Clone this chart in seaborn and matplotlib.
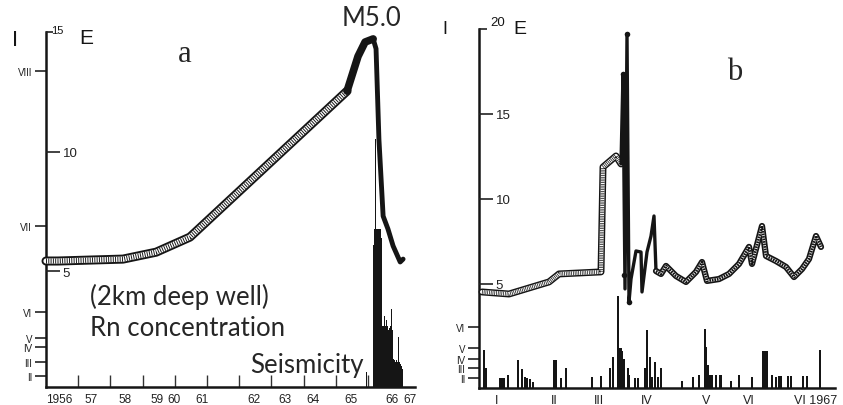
import matplotlib
matplotlib.use('Agg')
import matplotlib.pyplot as plt
import seaborn as sns

# ---- panel a: Rn in the 2 km deep well, 1956-1967 ----
a_year = [1956.0, 1956.37, 1957.37, 1958.39, 1959.42, 1960.47, 1965.35, 1965.69,
          1965.91, 1966.16, 1966.25, 1966.34, 1966.47, 1966.62, 1966.78, 1967.0, 1967.09]
a_e = [5.42, 5.42, 5.46, 5.5, 5.79, 6.42, 12.53, 13.98,
       14.58, 14.71, 14.3, 10.5, 7.3, 6.76, 6.05, 5.38, 5.5]
a_dot_year = [1956.37, 1957.37, 1958.39, 1959.42]
a_dot_e = [5.42, 5.46, 5.5, 5.79]

a_quake_year = [1965.94, 1966.16, 1966.19, 1966.22, 1966.25, 1966.28, 1966.31, 1966.34,
                1966.37, 1966.40, 1966.43, 1966.46, 1966.49, 1966.52, 1966.55, 1966.58,
                1966.61, 1966.64, 1966.67, 1966.70, 1966.73, 1966.76, 1966.79, 1966.82,
                1966.85, 1966.88, 1966.91, 1966.94, 1966.97, 1967.0, 1967.03, 1967.06]
a_quake_level = [4.2, 40, 44.5, 70, 44.5, 44.5, 44.5, 44.5,
                 44.5, 44.5, 42, 17.2, 17.2, 20, 17.2, 19, 17.2, 16, 16.5, 17.2,
                 22, 16, 8, 7.5, 7, 7.5, 7, 14, 7, 6.5, 6, 5]

a_int_labels = ['II', 'III', 'IV', 'V', 'VI', 'VII', 'VIII']
a_int_levels = [3.1, 7.0, 11.3, 13.8, 21.1, 45.4, 89.0]
a_e_ticks = [5, 10, 15]
a_year_ticks = [1957, 1958, 1959, 1960, 1961, 1962, 1963, 1964, 1965, 1966]
a_year_labels = ['1956', '57', '58', '59', '60', '61', '62', '63', '64', '65', '66', '67']
a_year_label_pos = [1956.4, 1957.4, 1958.45, 1959.45, 1959.98, 1960.85,
                    1962.46, 1963.42, 1964.3, 1965.47, 1966.75, 1967.3]

# ---- panel b: Rn after the shock, months of 1966-1967 ----
b_month = [0.06, 0.6, 1.4, 1.6, 2.44, 2.48, 2.74, 2.84, 2.88, 2.92, 2.96, 3.0, 3.04,
           3.14, 3.24, 3.26, 3.36, 3.44, 3.5, 3.54, 3.64, 3.74, 3.94, 4.14, 4.34,
           4.46, 4.56, 4.8, 5.0, 5.2, 5.4, 5.46, 5.66, 5.74, 5.94, 6.14, 6.3, 6.46,
           6.6, 6.74, 6.84]
b_e = [4.53, 4.41, 5.12, 5.59, 5.71, 11.88, 12.53, 12.06, 17.35, 4.71, 19.71, 3.94, 5.29,
       6.94, 6.88, 4.53, 6.88, 7.82, 9.0, 5.76, 5.59, 6.06, 5.47, 5.12, 5.71,
       6.29, 5.18, 5.29, 5.59, 6.18, 7.18, 6.18, 8.41, 6.65, 6.35, 6.0, 5.41, 5.88,
       6.47, 7.82, 7.18]
b_dot_month = [2.88, 2.96, 2.9, 3.0]
b_dot_e = [17.35, 19.71, 5.5, 3.94]

b_quake_month = [0.107, 0.147, 0.42, 0.46, 0.5, 0.587, 0.78, 0.853, 0.92, 0.967, 1.013, 1.08,
                 1.5, 1.547, 1.633, 1.733, 2.267, 2.433, 2.62, 2.68, 2.78, 2.81, 2.84,
                 2.87, 2.9, 2.97, 3.0, 3.113, 3.18, 3.32, 3.36, 3.413, 3.453, 3.513,
                 3.587, 3.633, 4.067, 4.287, 4.4, 4.52, 4.547, 4.573, 4.613, 4.653,
                 4.733, 4.82, 4.847, 5.047, 5.2, 5.467, 5.687, 5.72, 5.753, 5.867,
                 5.933, 6.0, 6.033, 6.187, 6.233, 6.48, 6.567, 6.82]
b_quake_level = [10.5, 5.6, 2.8, 2.8, 2.8, 3.5, 7.9, 5.2, 3.1, 2.9, 2.6, 1.7,
                 7.9, 7.9, 2.9, 5.7, 3.1, 3.3, 5.7, 8.6, 25.6, 11.1, 11.1,
                 10.3, 8.2, 5.6, 3.5, 2.8, 2.8, 5.7, 16.1, 8.6, 3.1, 7.2,
                 3.1, 5.7, 1.9, 3.1, 3.5, 16.5, 11.4, 6.3, 3.5, 3.5,
                 3.5, 3.5, 3.5, 1.9, 3.5, 3.1, 10.3, 10.3, 10.3, 3.5,
                 3.1, 3.3, 3.3, 3.3, 3.3, 3.3, 3.3, 10.7]

b_int_labels = ['II', 'III', 'IV', 'V', 'VI']
b_int_levels = [2.8, 5.6, 8.1, 11.1, 17.0]
b_e_ticks = [5, 10, 15, 20]
b_month_labels = ['I', 'II', 'III', 'IV', 'V', 'VI', 'VI 1967']
b_month_label_pos = [0.36, 1.5, 2.4, 3.36, 4.54, 5.4, 6.73]

sns.set_style('white')
plt.rcParams['font.family'] = ['Liberation Sans', 'DejaVu Sans']

W, H = 843, 406
fig = plt.figure(figsize=(W / 100, H / 100), dpi=100)
INK = '#151515'


def band(ax, x, y, lw, hatch=(0.18, 0.26), inner=0.58):
    # hatched double-line band like the original drawing
    sns.lineplot(x=x, y=y, ax=ax, sort=False, estimator=None, color=INK,
                 linewidth=lw, solid_joinstyle='round', clip_on=False)
    ax.plot(x, y, color='white', lw=lw * inner, solid_joinstyle='round', clip_on=False)
    ax.plot(x, y, color=INK, lw=lw * inner, dashes=hatch,
            dash_capstyle='butt', clip_on=False)


def solid(ax, x, y, lw):
    sns.lineplot(x=x, y=y, ax=ax, sort=False, estimator=None, color=INK,
                 linewidth=lw, solid_joinstyle='round', clip_on=False)


def setup(ax, levels, labels, e_ticks, e_lim, top_len):
    ax.set_ylim(0, 100)
    for s in ['top', 'right']:
        ax.spines[s].set_visible(False)
    for s in ['left', 'bottom']:
        ax.spines[s].set_linewidth(1.8)
        ax.spines[s].set_color(INK)
    ax.set_yticks(levels)
    ax.set_yticklabels(labels)
    ax.tick_params(axis='y', direction='out', length=8, width=1.2, labelsize=7,
                   pad=2, colors='#222222', left=True)
    eax = ax.twinx()
    eax.set_ylim(*e_lim)
    for s in eax.spines.values():
        s.set_visible(False)
    eax.spines['right'].set_position(('axes', 0))
    eax.set_yticks(e_ticks)
    # the top value is written separately as a small superscript
    eax.set_yticklabels([str(t) for t in e_ticks[:-1]] + [''])
    eax.tick_params(axis='y', direction='out', length=10, width=1.2, labelsize=9.5,
                    pad=2, colors='#222222', right=True)
    eax.yaxis.get_major_ticks()[-1].tick2line.set_markersize(top_len)
    return eax


# panel a
ax_a = fig.add_axes([46 / W, 18 / H, 369 / W, 355 / H])
ax_a.bar(a_quake_year, a_quake_level, width=0.034, color=INK, linewidth=0)
ax_a.set_xlim(1956, 1967.46)
ax_a.set_xticks(a_year_ticks)
ax_a.set_xticklabels([])
ax_a.tick_params(axis='x', which='major', direction='in', length=9, width=1.0,
                 bottom=True, color='#333333')
ax_a.set_xticks(a_year_label_pos, minor=True)
ax_a.set_xticklabels(a_year_labels, minor=True)
ax_a.tick_params(axis='x', which='minor', length=0, labelsize=8.5, pad=4, colors='#222222')
eax_a = setup(ax_a, a_int_levels, a_int_labels, a_e_ticks, (0.15, 15), 5)
band(eax_a, a_year[:7], a_e[:7], 6.5)
solid(eax_a, a_year[6:10], a_e[6:10], 5.5)
solid(eax_a, a_year[9:], a_e[9:], 3.5)
sns.scatterplot(x=a_dot_year, y=a_dot_e, ax=eax_a, color=INK, s=9, linewidth=0)
eax_a.set_xlim(1956, 1967.46)

# panel b
ax_b = fig.add_axes([479 / W, 17 / H, 356 / W, 359 / H])
ax_b.bar(b_quake_month, b_quake_level, width=0.04, color=INK, linewidth=0)
ax_b.set_xlim(0, 7.12)
ax_b.set_xticks(b_month_label_pos)
ax_b.set_xticklabels(b_month_labels)
ax_b.tick_params(axis='x', length=0, labelsize=9, pad=4, colors='#222222')
eax_b = setup(ax_b, b_int_levels, b_int_labels, b_e_ticks, (-1.12, 20), 6)
band(eax_b, b_month[:8], b_e[:8], 5)
solid(eax_b, b_month[7:20], b_e[7:20], 2.4)
band(eax_b, b_month[19:], b_e[19:], 4.5, hatch=(0.6, 0.3), inner=0.45)
sns.scatterplot(x=b_dot_month, y=b_dot_e, ax=eax_b, color=INK, s=16, linewidth=0,
                clip_on=False)
eax_b.set_xlim(0, 7.12)

for ax in [ax_a, eax_a, ax_b, eax_b]:
    ax.set_xlabel('')
    ax.set_ylabel('')


def ftext(x, y, s, **kw):
    fig.text(x / W, 1 - y / H, s, **kw)


ftext(15, 41, 'I', ha='center', va='center', fontsize=16, color=INK)
ftext(57, 31, '15', ha='center', va='center', fontsize=8, color=INK)
ftext(86, 39, 'E', ha='center', va='center', fontsize=15, color=INK)
ftext(445, 30, 'I', ha='center', va='center', fontsize=13, color=INK)
ftext(498, 23, '20', ha='center', va='center', fontsize=9.5, color=INK)
ftext(520, 30, 'E', ha='center', va='center', fontsize=14, color=INK)
ftext(185, 55, 'a', ha='center', va='center', fontsize=22, family='Liberation Serif')
ftext(735, 73, 'b', ha='center', va='center', fontsize=22, family='Liberation Serif')
ftext(372, 19, 'M5.0', ha='center', va='center', fontsize=18.5, family='Lato')
ftext(90, 297, '(2km deep well)', ha='left', va='center', fontsize=18.5, family='Lato')
ftext(90, 329, 'Rn concentration', ha='left', va='center', fontsize=18.5, family='Lato')
ftext(250, 366, 'Seismicity', ha='left', va='center', fontsize=18.5, family='Lato')

fig.savefig('out.png', dpi=100, facecolor='white')
